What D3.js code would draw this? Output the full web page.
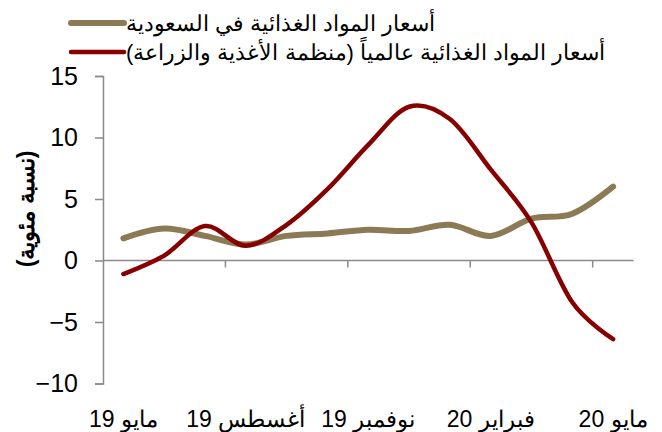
<!DOCTYPE html>
<html>
<head>
<meta charset="utf-8">
<script src="https://cdn.jsdelivr.net/npm/d3@7"></script>
<style>
  html, body { margin: 0; padding: 0; background: #fff; }
  svg { display: block; }
  text { font-family: "Liberation Sans", Arial, sans-serif; fill: #000; }
</style>
</head>
<body>
<svg id="chart" width="662" height="432"></svg>
<script>
// Monthly categories, May 2019 – May 2020
const months = ["مايو 19", "يونيو 19", "يوليو 19", "أغسطس 19", "سبتمبر 19", "أكتوبر 19",
                "نوفمبر 19", "ديسمبر 19", "يناير 20", "فبراير 20", "مارس 20", "أبريل 20", "مايو 20"];
// Months that carry a label on the horizontal axis
const labelledMonths = ["مايو 19", "أغسطس 19", "نوفمبر 19", "فبراير 20", "مايو 20"];
// Year-on-year change, percent
const saudiFood = [1.8, 2.6, 2.0, 1.3, 2.0, 2.2, 2.5, 2.4, 2.9, 2.0, 3.4, 3.8, 6.0];
const faoFood   = [-1.1, 0.4, 2.8, 1.2, 2.9, 5.8, 9.4, 12.5, 11.5, 7.4, 3.1, -3.4, -6.4];
const yTicks = [-10, -5, 0, 5, 10, 15];
const seriesNames = ["أسعار المواد الغذائية في السعودية",
                     "أسعار المواد الغذائية عالمياً (منظمة الأغذية والزراعة)"];
const seriesColors = ["#8c7a57", "#860000"];
const yTitle = "(نسبة مئوية)";

const svg = d3.select("#chart");
const axisColor = "#8a8a8a";

const x = d3.scaleBand().domain(months).range([103, 633.5]).padding(0);
const y = d3.scaleLinear().domain([-10, 15]).range([383.5, 76]);
const cx = m => x(m) + x.bandwidth() / 2;

// Vertical axis
const yAxis = svg.append("g")
  .attr("transform", `translate(${x.range()[0]},0)`)
  .call(d3.axisLeft(y).tickValues(yTicks).tickSize(8).tickSizeOuter(8).tickPadding(17));
yAxis.select(".domain").attr("stroke", axisColor).attr("stroke-width", 1.5);
yAxis.selectAll(".tick line").attr("stroke", axisColor).attr("stroke-width", 1.5);
yAxis.selectAll(".tick text")
  .style("font-family", '"Liberation Sans", Arial, sans-serif')
  .style("font-size", "25px").attr("fill", "#000");

// Horizontal axis along zero
const y0 = y(0);
svg.append("line")
  .attr("x1", x.range()[0]).attr("x2", x.range()[1])
  .attr("y1", y0).attr("y2", y0)
  .attr("stroke", axisColor).attr("stroke-width", 1.5);
svg.selectAll(".xtick")
  .data(labelledMonths.slice(1))
  .join("line")
  .attr("class", "xtick")
  .attr("x1", d => x(d)).attr("x2", d => x(d))
  .attr("y1", y0).attr("y2", y0 + 7)
  .attr("stroke", axisColor).attr("stroke-width", 1.5);

svg.selectAll(".xlabel")
  .data(labelledMonths)
  .join("text")
  .attr("class", "xlabel")
  .attr("x", d => cx(d))
  .attr("y", 427)
  .attr("text-anchor", "middle")
  .attr("direction", "rtl")
  .style("font-size", "23px")
  .text(d => d);

// Axis title
svg.append("text")
  .attr("transform", `translate(34,209) rotate(-90)`)
  .attr("text-anchor", "middle")
  .attr("direction", "rtl")
  .style("font-size", "23px")
  .style("font-weight", "bold")
  .text(yTitle);

// Lines
const line = d3.line()
  .x((d, i) => cx(months[i]))
  .y(d => y(d))
  .curve(d3.curveCatmullRom.alpha(0));

svg.append("path")
  .datum(saudiFood)
  .attr("d", line)
  .attr("fill", "none")
  .attr("stroke", seriesColors[0])
  .attr("stroke-width", 6)
  .attr("stroke-linecap", "round")
  .attr("stroke-linejoin", "round");

svg.append("path")
  .datum(faoFood)
  .attr("d", line)
  .attr("fill", "none")
  .attr("stroke", seriesColors[1])
  .attr("stroke-width", 4.5)
  .attr("stroke-linecap", "round")
  .attr("stroke-linejoin", "round");

// Legend
const legend = svg.append("g");
const rows = legend.selectAll("g")
  .data(seriesNames)
  .join("g")
  .attr("transform", (d, i) => `translate(0,${23 + i * 29})`);
rows.append("line")
  .attr("x1", 71).attr("x2", 124)
  .attr("y1", 0).attr("y2", 0)
  .attr("stroke", (d, i) => seriesColors[i])
  .attr("stroke-width", (d, i) => i === 0 ? 6 : 4.5)
  .attr("stroke-linecap", "round");
rows.append("text")
  .attr("x", 126)
  .attr("y", 8)
  .attr("direction", "rtl")
  .attr("text-anchor", "end")
  .style("font-size", "22px")
  .text(d => d);
</script>
</body>
</html>
